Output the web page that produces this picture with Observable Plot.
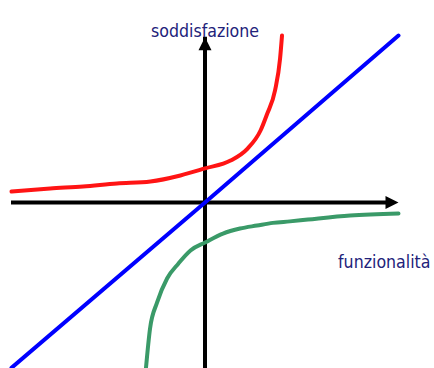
<!DOCTYPE html>
<html>
<head>
<meta charset="utf-8">
<script src="https://cdn.jsdelivr.net/npm/d3@7"></script>
<script src="https://cdn.jsdelivr.net/npm/@observablehq/plot@0.6"></script>
<style>
  html, body { margin: 0; padding: 0; background: #fff; }
  #chart svg { display: block; }
</style>
</head>
<body>
<div id="chart"></div>
<script>
// Axis labels
const xLabel = "funzionalità";
const yLabel = "soddisfazione";

// Axis extents (data units)
const xAxisExtent = [-1.0, 1.0];
const yAxisExtent = [-1.0, 0.99];

// Blue line (performance / one-dimensional)
const blueX = [-1.0, 0.0, 1.0];
const blueY = [-0.99, 0.0, 1.0];

// Red curve (attractive)
const redX = [-1.0, -0.8, -0.63, -0.455, -0.282, -0.127, 0.0, 0.132, 0.22, 0.287, 0.32, 0.362, 0.388, 0.398];
const redY = [0.066, 0.084, 0.096, 0.114, 0.126, 0.162, 0.204, 0.251, 0.323, 0.431, 0.527, 0.671, 0.862, 1.0];

// Green curve (must-be)
const greenX = [-0.305, -0.284, -0.248, -0.196, -0.137, -0.075, 0.0, 0.093, 0.181, 0.269, 0.351, 0.439, 0.532, 0.75, 1.0];
const greenY = [-0.99, -0.754, -0.6, -0.455, -0.365, -0.287, -0.24, -0.186, -0.156, -0.138, -0.122, -0.113, -0.102, -0.078, -0.066];

const toPts = (xs, ys) => xs.map((x, i) => ({x, y: ys[i]}));
const red = toPts(redX, redY);
const blue = toPts(blueX, blueY);
const green = toPts(greenX, greenY);

// filled arrowhead symbol pointing up, tip at origin
const arrowHead = {
  draw(context) {
    context.moveTo(0, 0);
    context.lineTo(6.5, 13);
    context.lineTo(-6.5, 13);
    context.closePath();
  }
};

const labelFont = "'DejaVu Sans Condensed', 'Liberation Sans', Arial, sans-serif";

const chart = Plot.plot({
  width: 434,
  height: 368,
  marginTop: 0, marginRight: 0, marginBottom: 0, marginLeft: 0,
  x: {domain: [-1, 1], range: [11, 398], axis: null},
  y: {domain: [-1, 1], range: [369, 35], axis: null},
  style: {background: "#fff"},
  marks: [
    // horizontal axis
    Plot.ruleY([0], {x1: xAxisExtent[0], x2: xAxisExtent[1], insetRight: 11, stroke: "#000", strokeWidth: 4}),
    Plot.dot([xAxisExtent[1]], {x: d => d, y: () => 0, symbol: arrowHead, rotate: 90, r: 5, fill: "#000", stroke: "none"}),
    // vertical axis
    Plot.ruleX([0], {y1: yAxisExtent[0], y2: yAxisExtent[1], insetTop: 11, stroke: "#000", strokeWidth: 4}),
    Plot.dot([yAxisExtent[1]], {x: () => 0, y: d => d, symbol: arrowHead, r: 5, fill: "#000", stroke: "none"}),
    // curves
    Plot.line(blue, {x: "x", y: "y", stroke: "#0000ff", strokeWidth: 4}),
    Plot.line(red, {x: "x", y: "y", stroke: "#ff1414", strokeWidth: 4, curve: "monotone-x"}),
    Plot.line(green, {x: "x", y: "y", stroke: "#3a9a68", strokeWidth: 4, curve: "monotone-x"}),
    // labels
    Plot.text([yLabel], {text: d => d, x: () => 0, frameAnchor: "top", dy: 24.4, fill: "#22227a", fontSize: 17.6, fontFamily: labelFont}),
    Plot.text([xLabel], {text: d => d, y: () => 0, frameAnchor: "right", textAnchor: "end", dx: -4, dy: 59.4, fill: "#22227a", fontSize: 17.6, fontFamily: labelFont})
  ]
});
document.getElementById("chart").appendChild(chart);
</script>
</body>
</html>
